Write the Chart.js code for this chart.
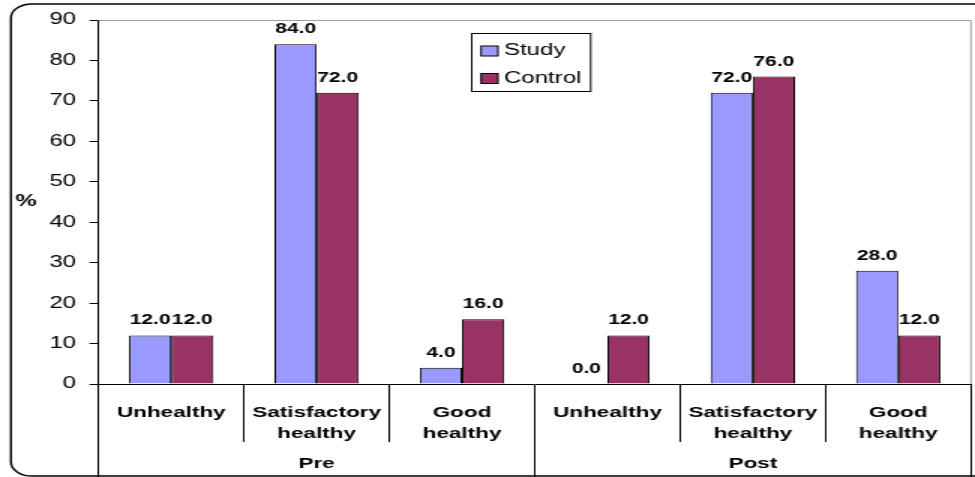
<!DOCTYPE html>
<html><head><meta charset="utf-8">
<script src="https://cdn.jsdelivr.net/npm/chart.js@4/dist/chart.umd.min.js"></script>
<style>
html,body{margin:0;padding:0;background:#fff;overflow:hidden}
#wrap{width:650px;height:477px;transform:scaleX(1.5);transform-origin:0 0}
</style>
</head><body>
<div id="wrap"><canvas id="c" width="650" height="477" style="width:650px;height:477px"></canvas></div>
<script>
// ---- data ----
const groups = ['Pre', 'Post'];
const categories = [
  ['Unhealthy'], ['Satisfactory', 'healthy'], ['Good', 'healthy'],
  ['Unhealthy'], ['Satisfactory', 'healthy'], ['Good', 'healthy']
];
const seriesNames = ['Study', 'Control'];
const studyValues = [12.0, 84.0, 4.0, 0.0, 72.0, 28.0];
const controlValues = [12.0, 72.0, 16.0, 12.0, 76.0, 12.0];
const yMin = 0, yMax = 90, yStep = 10;
const yTitle = '%';
const seriesColors = ['#9999FF', '#993366'];

const FONT = '"Liberation Sans", Arial, sans-serif';

const framePlugin = {
  id: 'frame',
  beforeDraw(chart) {
    const ctx = chart.ctx;
    ctx.save();
    ctx.fillStyle = '#fff';
    ctx.fillRect(0, 0, chart.width, chart.height);
    ctx.strokeStyle = '#000';
    ctx.lineWidth = 1.4;
    ctx.beginPath();
    ctx.roundRect(7.3, 4, 660, 472, 14);
    ctx.stroke();
    ctx.restore();
  },
  beforeDatasetsDraw(chart) {
    const a = chart.chartArea, ctx = chart.ctx;
    ctx.save();
    ctx.strokeStyle = '#a0a0a0';
    ctx.lineWidth = 1;
    ctx.beginPath();
    ctx.moveTo(a.left, a.top + 0.5);
    ctx.lineTo(a.right, a.top + 0.5);
    ctx.lineTo(a.right, a.bottom);
    ctx.stroke();
    ctx.restore();
  },
  afterDraw(chart) {
    const ctx = chart.ctx, a = chart.chartArea;
    ctx.save();
    // y title (horizontal)
    ctx.fillStyle = '#000';
    ctx.font = 'bold 16px ' + FONT;
    ctx.textAlign = 'center';
    ctx.textBaseline = 'middle';
    ctx.fillText(yTitle, 17.3, (a.top + a.bottom) / 2);
    // legend box
    const lx = 314, ly = 33, lw = 79.3, lh = 58;
    ctx.fillStyle = '#fff';
    ctx.fillRect(lx, ly, lw, lh);
    ctx.strokeStyle = '#000';
    ctx.lineWidth = 1;
    ctx.strokeRect(lx + 0.5, ly + 0.5, lw, lh);
    const rows = [51, 78.5];
    chart.data.datasets.forEach((ds, i) => {
      const cy = rows[i];
      ctx.fillStyle = ds.backgroundColor;
      ctx.fillRect(320.7, cy - 5, 11.3, 10);
      ctx.strokeStyle = '#000';
      ctx.strokeRect(320.7, cy - 5, 11.3, 10);
      ctx.fillStyle = '#000';
      ctx.font = '16px ' + FONT;
      ctx.textAlign = 'left';
      ctx.textBaseline = 'middle';
      ctx.fillText(ds.label, 336, cy);
    });
    ctx.restore();
  },
  afterDatasetsDraw(chart) {
    const ctx = chart.ctx;
    ctx.save();
    ctx.fillStyle = '#000';
    ctx.font = 'bold 14px ' + FONT;
    ctx.textAlign = 'center';
    ctx.textBaseline = 'alphabetic';
    chart.data.datasets.forEach((ds, i) => {
      const meta = chart.getDatasetMeta(i);
      meta.data.forEach((el, j) => {
        ctx.fillText(Number(ds.data[j]).toFixed(1), el.x, el.y - 11);
      });
    });
    ctx.restore();
  }
};

new Chart(document.getElementById('c'), {
  type: 'bar',
  data: {
    labels: categories,
    datasets: [
      { label: seriesNames[0], data: studyValues, backgroundColor: seriesColors[0],
        borderColor: '#000', borderWidth: 1, categoryPercentage: 0.58, barPercentage: 1, xAxisID: 'x' },
      { label: seriesNames[1], data: controlValues, backgroundColor: seriesColors[1],
        borderColor: '#000', borderWidth: 1, categoryPercentage: 0.58, barPercentage: 1, xAxisID: 'x' }
    ]
  },
  options: {
    responsive: false,
    animation: false,
    devicePixelRatio: 1,
    layout: { padding: { top: 20, right: 2.7, left: 0, bottom: 0 } },
    plugins: { legend: { display: false }, tooltip: { enabled: false } },
    scales: {
      x: {
        type: 'category', position: 'bottom', weight: 0, offset: true,
        grid: { display: true, offset: true, drawOnChartArea: false, drawTicks: true, tickLength: 58, color: '#000', lineWidth: 1 },
        border: { display: true, color: '#000', width: 1 },
        ticks: { autoSkip: false, maxRotation: 0, minRotation: 0, padding: -40, color: '#000',
                 font: { family: FONT, size: 15, weight: 'bold', lineHeight: 1.4 } },
        afterFit(s) { s.height = 58; }
      },
      x2: {
        type: 'category', labels: groups, position: 'bottom', weight: 1, offset: true,
        grid: { display: true, offset: true, drawOnChartArea: false, drawTicks: true, tickLength: 35, color: '#000', lineWidth: 1 },
        border: { display: false },
        ticks: { autoSkip: false, maxRotation: 0, minRotation: 0, padding: -23.5, color: '#000',
                 font: { family: FONT, size: 15, weight: 'bold', lineHeight: 1.4 } },
        afterFit(s) { s.height = 35; }
      },
      y: {
        min: yMin, max: yMax,
        ticks: { stepSize: yStep, padding: 9, color: '#000', font: { family: FONT, size: 16 } },
        grid: { display: true, drawOnChartArea: false, drawTicks: true, tickLength: 6, color: '#000' },
        border: { display: true, color: '#000', width: 1 },
        afterFit(s) { s.width = 65.7; }
      }
    }
  },
  plugins: [framePlugin]
});
</script>
</body></html>
